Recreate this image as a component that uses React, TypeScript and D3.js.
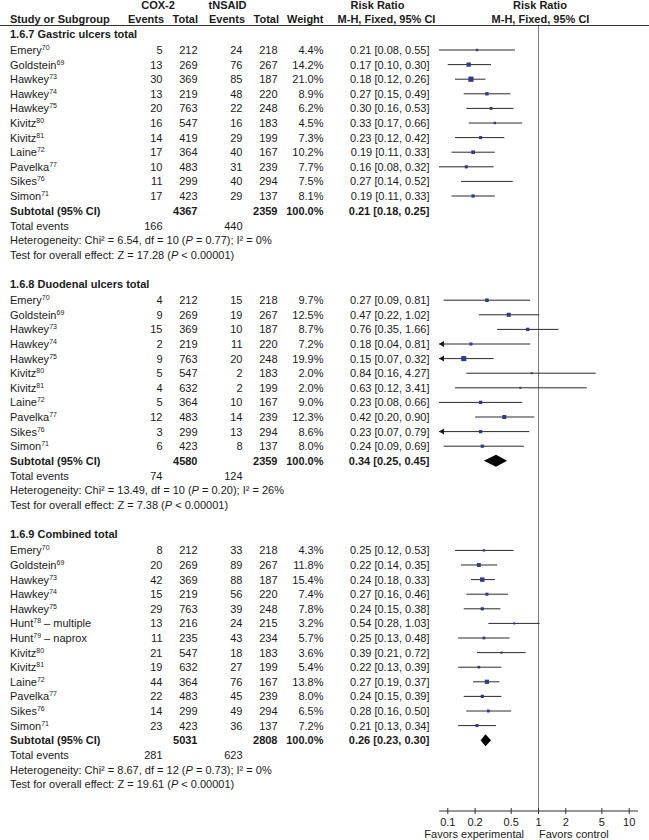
import React from "react";
import * as d3 from "d3";

// ---------- DATA ----------
const sectionTitles = ["1.6.7 Gastric ulcers total", "1.6.8 Duodenal ulcers total", "1.6.9 Combined total"];

const gastricStudies = ["Emery|70", "Goldstein|69", "Hawkey|73", "Hawkey|74", "Hawkey|75", "Kivitz|80", "Kivitz|81", "Laine|72", "Pavelka|77", "Sikes|76", "Simon|71"];
const gastricCoxEvents = [5, 13, 30, 13, 20, 16, 14, 17, 10, 11, 17];
const gastricCoxTotal = [212, 269, 369, 219, 763, 547, 419, 364, 483, 299, 423];
const gastricTnEvents = [24, 76, 85, 48, 22, 16, 29, 40, 31, 40, 29];
const gastricTnTotal = [218, 267, 187, 220, 248, 183, 199, 167, 239, 294, 137];
const gastricWeight = [4.4, 14.2, 21.0, 8.9, 6.2, 4.5, 7.3, 10.2, 7.7, 7.5, 8.1];
const gastricRR = [0.21, 0.17, 0.18, 0.27, 0.30, 0.33, 0.23, 0.19, 0.16, 0.27, 0.19];
const gastricLo = [0.08, 0.10, 0.12, 0.15, 0.16, 0.17, 0.12, 0.11, 0.08, 0.14, 0.11];
const gastricHi = [0.55, 0.30, 0.26, 0.49, 0.53, 0.66, 0.42, 0.33, 0.32, 0.52, 0.33];
const gastricShowSquare = [true, true, true, true, true, true, true, true, true, false, true];

const duodenalStudies = ["Emery|70", "Goldstein|69", "Hawkey|73", "Hawkey|74", "Hawkey|75", "Kivitz|80", "Kivitz|81", "Laine|72", "Pavelka|77", "Sikes|76", "Simon|71"];
const duodenalCoxEvents = [4, 9, 15, 2, 9, 5, 4, 5, 12, 3, 6];
const duodenalCoxTotal = [212, 269, 369, 219, 763, 547, 632, 364, 483, 299, 423];
const duodenalTnEvents = [15, 19, 10, 11, 20, 2, 2, 10, 14, 13, 8];
const duodenalTnTotal = [218, 267, 187, 220, 248, 183, 199, 167, 239, 294, 137];
const duodenalWeight = [9.7, 12.5, 8.7, 7.2, 19.9, 2.0, 2.0, 9.0, 12.3, 8.6, 8.0];
const duodenalRR = [0.27, 0.47, 0.76, 0.18, 0.15, 0.84, 0.63, 0.23, 0.42, 0.23, 0.24];
const duodenalLo = [0.09, 0.22, 0.35, 0.04, 0.07, 0.16, 0.12, 0.08, 0.20, 0.07, 0.09];
const duodenalHi = [0.81, 1.02, 1.66, 0.81, 0.32, 4.27, 3.41, 0.66, 0.90, 0.79, 0.69];
const duodenalShowSquare = [true, true, true, true, true, true, true, true, true, true, true];

const combinedStudies = ["Emery|70", "Goldstein|69", "Hawkey|73", "Hawkey|74", "Hawkey|75", "Hunt|78| – multiple", "Hunt|79| – naprox", "Kivitz|80", "Kivitz|81", "Laine|72", "Pavelka|77", "Sikes|76", "Simon|71"];
const combinedCoxEvents = [8, 20, 42, 15, 29, 13, 11, 21, 19, 44, 22, 14, 23];
const combinedCoxTotal = [212, 269, 369, 219, 763, 216, 235, 547, 632, 364, 483, 299, 423];
const combinedTnEvents = [33, 89, 88, 56, 39, 24, 43, 18, 27, 76, 45, 49, 36];
const combinedTnTotal = [218, 267, 187, 220, 248, 215, 234, 183, 199, 167, 239, 294, 137];
const combinedWeight = [4.3, 11.8, 15.4, 7.4, 7.8, 3.2, 5.7, 3.6, 5.4, 13.8, 8.0, 6.5, 7.2];
const combinedRR = [0.25, 0.22, 0.24, 0.27, 0.24, 0.54, 0.25, 0.39, 0.22, 0.27, 0.24, 0.28, 0.21];
const combinedLo = [0.12, 0.14, 0.18, 0.16, 0.15, 0.28, 0.13, 0.21, 0.13, 0.19, 0.15, 0.16, 0.13];
const combinedHi = [0.53, 0.35, 0.33, 0.46, 0.38, 1.03, 0.48, 0.72, 0.39, 0.37, 0.39, 0.50, 0.34];
const combinedShowSquare = [true, true, true, true, true, true, true, true, true, true, true, true, true];

const subtotalCoxTotal = [4367, 4580, 5031];
const subtotalTnTotal = [2359, 2359, 2808];
const subtotalRR = [0.21, 0.34, 0.26];
const subtotalLo = [0.18, 0.25, 0.23];
const subtotalHi = [0.25, 0.45, 0.30];
const subtotalShowDiamond = [false, true, true];
const totalCoxEvents = [166, 74, 281];
const totalTnEvents = [440, 124, 623];
const hetChi = ["6.54", "13.49", "8.67"];
const hetDf = ["10", "10", "12"];
const hetP = ["0.77", "0.20", "0.73"];
const hetI2 = ["0%", "26%", "0%"];
const testZ = ["17.28", "7.38", "19.61"];

const axisTicks = [0.1, 0.2, 0.5, 1, 2, 5, 10];
const axisTickLabels = ["0.1", "0.2", "0.5", "1", "2", "5", "10"];

// ---------- LAYOUT ----------
const W = 649;
const H = 840;
const FONT = "'Liberation Sans', Arial, Helvetica, sans-serif";
const FS = 11;
const ROW = 14.6;
const TXT = "#1a1a1a";
const SQ = "#2c3b8c";

const x = d3.scaleLog().domain([0.08, 12.5]).range([439, 638]);
const sizeScale = d3.scaleSqrt().domain([0, 21]).range([0, 5.2]);

const fmt2 = d3.format(".2f");
const fmt1 = d3.format(".1f");

type Study = { label: string; ce: number; ct: number; te: number; tt: number; w: number; rr: number; lo: number; hi: number; sq: boolean };

function buildSection(names: string[], ce: number[], ct: number[], te: number[], tt: number[], w: number[], rr: number[], lo: number[], hi: number[], sq: boolean[]): Study[] {
  return names.map((label, i) => ({ label, ce: ce[i], ct: ct[i], te: te[i], tt: tt[i], w: w[i], rr: rr[i], lo: lo[i], hi: hi[i], sq: sq[i] }));
}

const sections: Study[][] = [
  buildSection(gastricStudies, gastricCoxEvents, gastricCoxTotal, gastricTnEvents, gastricTnTotal, gastricWeight, gastricRR, gastricLo, gastricHi, gastricShowSquare),
  buildSection(duodenalStudies, duodenalCoxEvents, duodenalCoxTotal, duodenalTnEvents, duodenalTnTotal, duodenalWeight, duodenalRR, duodenalLo, duodenalHi, duodenalShowSquare),
  buildSection(combinedStudies, combinedCoxEvents, combinedCoxTotal, combinedTnEvents, combinedTnTotal, combinedWeight, combinedRR, combinedLo, combinedHi, combinedShowSquare),
];

const COL = { study: 10, ce: 162.5, ct: 197.5, te: 242.5, tt: 277.5, w: 323.5, rr: 429.5 };

function StudyLabel({ label, y, bold }: { label: string; y: number; bold?: boolean }) {
  const parts = label.split("|");
  return (
    <text x={COL.study} y={y} fontWeight={bold ? "bold" : "normal"}>
      {parts[0]}
      {parts[1] ? (
        <tspan fontSize={7} dy={-4}>{parts[1]}</tspan>
      ) : null}
      {parts[2] ? <tspan dy={4}>{parts[2]}</tspan> : null}
    </text>
  );
}

export default function App() {
  const els: React.ReactNode[] = [];
  let cy = 34; // center y of the current line
  const base = (c: number) => c + 4;
  const [xmin, xmax] = x.domain();

  sections.forEach((studies, s) => {
    els.push(
      <text key={`t${s}`} x={COL.study} y={base(cy)} fontWeight="bold">{sectionTitles[s]}</text>
    );
    cy += 16;
    studies.forEach((st, i) => {
      const b = base(cy);
      const loC = Math.max(st.lo, xmin);
      const hiC = Math.min(st.hi, xmax);
      const sz = Math.max(2, sizeScale(st.w));
      els.push(
        <g key={`s${s}-${i}`}>
          <StudyLabel label={st.label} y={b} />
          <text x={COL.ce} y={b} textAnchor="end">{st.ce}</text>
          <text x={COL.ct} y={b} textAnchor="end">{st.ct}</text>
          <text x={COL.te} y={b} textAnchor="end">{st.te}</text>
          <text x={COL.tt} y={b} textAnchor="end">{st.tt}</text>
          <text x={COL.w} y={b} textAnchor="end">{fmt1(st.w)}%</text>
          <text x={COL.rr} y={b} textAnchor="end">{`${fmt2(st.rr)} [${fmt2(st.lo)}, ${fmt2(st.hi)}]`}</text>
          <line x1={x(loC)} x2={x(hiC)} y1={cy} y2={cy} stroke="#2a2a2a" strokeWidth={1} />
          {st.lo < xmin ? (
            <path d={`M${x(xmin)},${cy} l5,-3 l0,6 z`} fill="#1a1a1a" />
          ) : null}
          {st.sq ? (
            <rect x={x(st.rr) - sz / 2} y={cy - sz / 2} width={sz} height={sz} fill={SQ} />
          ) : null}
        </g>
      );
      cy += ROW;
    });
    // subtotal
    {
      const b = base(cy);
      const dy = 6;
      els.push(
        <g key={`sub${s}`} fontWeight="bold">
          <text x={COL.study} y={b}>Subtotal (95% CI)</text>
          <text x={COL.ct} y={b} textAnchor="end">{subtotalCoxTotal[s]}</text>
          <text x={COL.tt} y={b} textAnchor="end">{subtotalTnTotal[s]}</text>
          <text x={COL.w} y={b} textAnchor="end">100.0%</text>
          <text x={COL.rr} y={b} textAnchor="end">{`${fmt2(subtotalRR[s])} [${fmt2(subtotalLo[s])}, ${fmt2(subtotalHi[s])}]`}</text>
          {subtotalShowDiamond[s] ? (
            <path
              d={`M${x(subtotalLo[s])},${cy} L${x(subtotalRR[s])},${cy - dy} L${x(subtotalHi[s])},${cy} L${x(subtotalRR[s])},${cy + dy} Z`}
              fill="#000"
            />
          ) : null}
        </g>
      );
    }
    cy += ROW + 0.3;
    els.push(
      <g key={`te${s}`}>
        <text x={COL.study} y={base(cy)}>Total events</text>
        <text x={COL.ce} y={base(cy)} textAnchor="end">{totalCoxEvents[s]}</text>
        <text x={COL.te} y={base(cy)} textAnchor="end">{totalTnEvents[s]}</text>
      </g>
    );
    cy += ROW;
    els.push(
      <text key={`h${s}`} x={COL.study} y={base(cy)}>
        {`Heterogeneity: Chi² = ${hetChi[s]}, df = ${hetDf[s]} (`}
        <tspan fontStyle="italic">P</tspan>
        {` = ${hetP[s]}); I² = ${hetI2[s]}`}
      </text>
    );
    cy += ROW;
    els.push(
      <text key={`z${s}`} x={COL.study} y={base(cy)}>
        {`Test for overall effect: Z = ${testZ[s]} (`}
        <tspan fontStyle="italic">P</tspan>
        {` < 0.00001)`}
      </text>
    );
    cy += 29.5;
  });

  const axisY = 811;
  const one = x(1);

  return (
    <svg width={W} height={H} style={{ position: "absolute", left: 0, top: 0, display: "block", background: "#fff" }}
      fontFamily={FONT} fontSize={FS} fill={TXT}>
      {/* header */}
      <g fontWeight="bold">
        <text x={158} y={9} textAnchor="middle">COX-2</text>
        <text x={227.5} y={9} textAnchor="middle">tNSAID</text>
        <text x={377.5} y={9} textAnchor="middle">Risk Ratio</text>
        <text x={540} y={9} textAnchor="middle">Risk Ratio</text>
        <text x={COL.study} y={23}>Study or Subgroup</text>
        <text x={164} y={23} textAnchor="end">Events</text>
        <text x={198} y={23} textAnchor="end">Total</text>
        <text x={245} y={23} textAnchor="end">Events</text>
        <text x={279} y={23} textAnchor="end">Total</text>
        <text x={323.5} y={23} textAnchor="end">Weight</text>
        <text x={386.5} y={23} textAnchor="middle">M-H, Fixed, 95% CI</text>
        <text x={540.5} y={23} textAnchor="middle">M-H, Fixed, 95% CI</text>
      </g>
      <line x1={0} x2={W} y1={25.5} y2={25.5} stroke="#333" strokeWidth={1} />
      {/* null line */}
      <line x1={one} x2={one} y1={26} y2={axisY} stroke="#7a7a7a" strokeWidth={1} />
      {els}
      {/* axis */}
      <line x1={x.range()[0]} x2={x.range()[1]} y1={axisY} y2={axisY} stroke="#333" strokeWidth={1} />
      {axisTicks.map((t, i) => (
        <g key={`ax${i}`}>
          <line x1={x(t)} x2={x(t)} y1={axisY - 3} y2={axisY + 3} stroke="#333" strokeWidth={1} />
          <text x={x(t)} y={axisY + 15} textAnchor="middle">{axisTickLabels[i]}</text>
        </g>
      ))}
      <text x={524} y={axisY + 27} textAnchor="end">Favors experimental</text>
      <text x={539} y={axisY + 27} textAnchor="start">Favors control</text>
    </svg>
  );
}
